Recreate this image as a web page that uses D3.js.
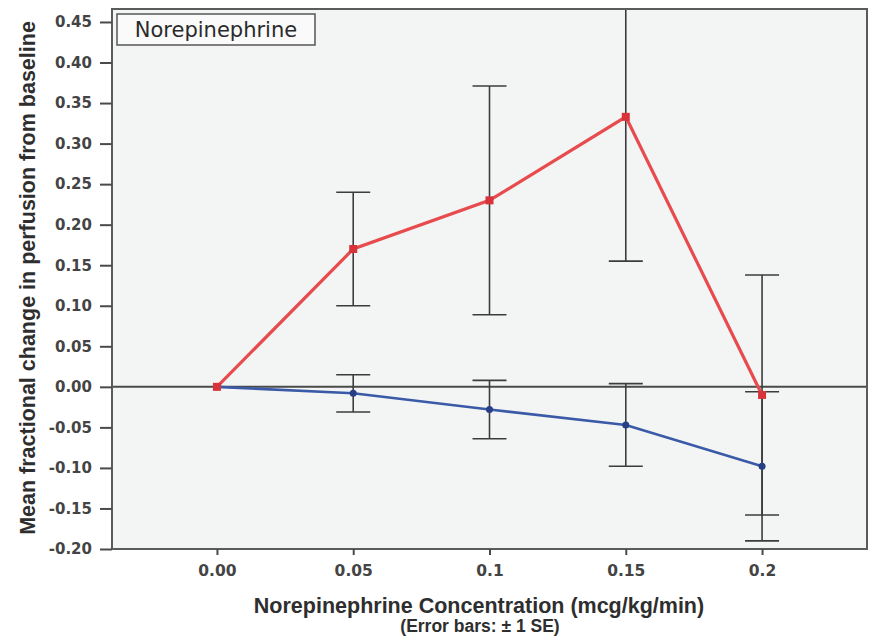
<!DOCTYPE html>
<html>
<head>
<meta charset="utf-8">
<script src="https://cdn.jsdelivr.net/npm/d3@7"></script>
<style>
  body { margin: 0; background: #fff; }
  text { font-family: "Liberation Sans", Arial, sans-serif; }
</style>
</head>
<body>
<div id="chart"></div>
<script>
// Data
const doses = ["0.00", "0.05", "0.1", "0.15", "0.2"];
const redMean = [0, 0.170, 0.230, 0.333, -0.010];
const redSE = [0, 0.070, 0.141, 0.178, 0.148];
const blueMean = [0, -0.008, -0.028, -0.047, -0.098];
const blueSE = [0, 0.023, 0.036, 0.051, 0.092];
const yTicks = [-0.20, -0.15, -0.10, -0.05, 0.00, 0.05, 0.10, 0.15, 0.20, 0.25, 0.30, 0.35, 0.40, 0.45];

const width = 874, height = 640;
const margin = { top: 9, right: 7, bottom: 91, left: 112 };

const svg = d3.select("#chart")
    .append("svg")
    .attr("width", width)
    .attr("height", height);

const x = d3.scalePoint()
    .domain(doses)
    .range([margin.left, width - margin.right])
    .padding(0.77);

const y = d3.scaleLinear()
    .domain([-0.20, 0.466])
    .range([height - margin.bottom, margin.top]);

const pw = width - margin.right - margin.left;
const ph = height - margin.bottom - margin.top;

// Plot background
svg.append("rect")
    .attr("x", margin.left)
    .attr("y", margin.top)
    .attr("width", pw)
    .attr("height", ph)
    .attr("fill", "#f3f4f4");

svg.append("clipPath")
    .attr("id", "clip")
    .append("rect")
    .attr("x", margin.left)
    .attr("y", margin.top)
    .attr("width", pw)
    .attr("height", ph);

const g = svg.append("g").attr("clip-path", "url(#clip)");

// Zero reference line
g.append("line")
    .attr("x1", margin.left)
    .attr("x2", width - margin.right)
    .attr("y1", y(0))
    .attr("y2", y(0))
    .attr("stroke", "#4a4a48")
    .attr("stroke-width", 2);

// Error bars
function errorBars(mean, se) {
    const rows = doses.map((d, i) => ({ d, m: mean[i], s: se[i] })).filter(r => r.s > 0);
    const eb = g.append("g")
        .attr("stroke", "#3c3c3c")
        .attr("stroke-width", 1.6);
    eb.selectAll("line.v").data(rows).join("line")
        .attr("class", "v")
        .attr("x1", r => x(r.d)).attr("x2", r => x(r.d))
        .attr("y1", r => y(r.m + r.s)).attr("y2", r => y(r.m - r.s));
    eb.selectAll("line.t").data(rows).join("line")
        .attr("class", "t")
        .attr("x1", r => x(r.d) - 17).attr("x2", r => x(r.d) + 17)
        .attr("y1", r => y(r.m + r.s)).attr("y2", r => y(r.m + r.s));
    eb.selectAll("line.b").data(rows).join("line")
        .attr("class", "b")
        .attr("x1", r => x(r.d) - 17).attr("x2", r => x(r.d) + 17)
        .attr("y1", r => y(r.m - r.s)).attr("y2", r => y(r.m - r.s));
}
errorBars(redMean, redSE);
errorBars(blueMean, blueSE);

// Lines
const line = d3.line()
    .x((v, i) => x(doses[i]))
    .y(v => y(v));

g.append("path")
    .datum(blueMean)
    .attr("fill", "none")
    .attr("stroke", "#3a5aa8")
    .attr("stroke-width", 2.6)
    .attr("d", line);

g.selectAll("circle.blue")
    .data(blueMean)
    .join("circle")
    .attr("class", "blue")
    .attr("cx", (v, i) => x(doses[i]))
    .attr("cy", v => y(v))
    .attr("r", 3.5)
    .attr("fill", "#283f86");

g.append("path")
    .datum(redMean)
    .attr("fill", "none")
    .attr("stroke", "#e84b4d")
    .attr("stroke-width", 3.2)
    .attr("d", line);

g.selectAll("rect.red")
    .data(redMean)
    .join("rect")
    .attr("class", "red")
    .attr("x", (v, i) => x(doses[i]) - 4)
    .attr("y", v => y(v) - 4)
    .attr("width", 8)
    .attr("height", 8)
    .attr("fill", "#d8323a");

// Frame
svg.append("rect")
    .attr("x", margin.left)
    .attr("y", margin.top)
    .attr("width", pw)
    .attr("height", ph)
    .attr("fill", "none")
    .attr("stroke", "#5a5c5a")
    .attr("stroke-width", 2);

// Axes
const fmt = d3.format(".2f");
const yAxis = svg.append("g")
    .attr("transform", `translate(${margin.left},0)`)
    .call(d3.axisLeft(y).tickValues(yTicks).tickFormat(d => fmt(d).replace("\u2212", "-")).tickSize(12).tickPadding(8));
yAxis.select(".domain").remove();
yAxis.selectAll("line").attr("stroke", "#4a4a4a").attr("stroke-width", 2);
yAxis.selectAll("text")
    .attr("fill", "#444")
    .style("font-family", "'DejaVu Sans', sans-serif")
    .style("font-size", "15px")
    .style("font-weight", "bold");

const xAxis = svg.append("g")
    .attr("transform", `translate(0,${height - margin.bottom})`)
    .call(d3.axisBottom(x).tickSize(6).tickPadding(10));
xAxis.select(".domain").remove();
xAxis.selectAll("line").attr("stroke", "#4a4a4a").attr("stroke-width", 2);
xAxis.selectAll("text")
    .attr("fill", "#444")
    .style("font-family", "'DejaVu Sans', sans-serif")
    .style("font-size", "15.5px")
    .style("font-weight", "bold");

// Legend label
svg.append("rect")
    .attr("x", 117)
    .attr("y", 14)
    .attr("width", 198)
    .attr("height", 31)
    .attr("fill", "#fafafa")
    .attr("stroke", "#555")
    .attr("stroke-width", 1.5);
svg.append("text")
    .attr("x", 216)
    .attr("y", 37)
    .attr("text-anchor", "middle")
    .attr("fill", "#2a2a2a")
    .style("font-family", "'DejaVu Sans', sans-serif")
    .style("font-size", "21px")
    .text("Norepinephrine");

// Axis titles
svg.append("text")
    .attr("x", 479)
    .attr("y", 613)
    .attr("text-anchor", "middle")
    .attr("fill", "#2e2e2e")
    .style("font-size", "21.5px")
    .style("font-weight", "bold")
    .text("Norepinephrine Concentration (mcg/kg/min)");

svg.append("text")
    .attr("x", 480)
    .attr("y", 632)
    .attr("text-anchor", "middle")
    .attr("fill", "#2e2e2e")
    .style("font-size", "17.5px")
    .style("font-weight", "bold")
    .text("(Error bars: \u00b1 1 SE)");

svg.append("text")
    .attr("transform", "translate(35,278) rotate(-90)")
    .attr("text-anchor", "middle")
    .attr("fill", "#2e2e2e")
    .style("font-size", "21.5px")
    .style("font-weight", "bold")
    .text("Mean fractional change in perfusion from baseline");
</script>
</body>
</html>
